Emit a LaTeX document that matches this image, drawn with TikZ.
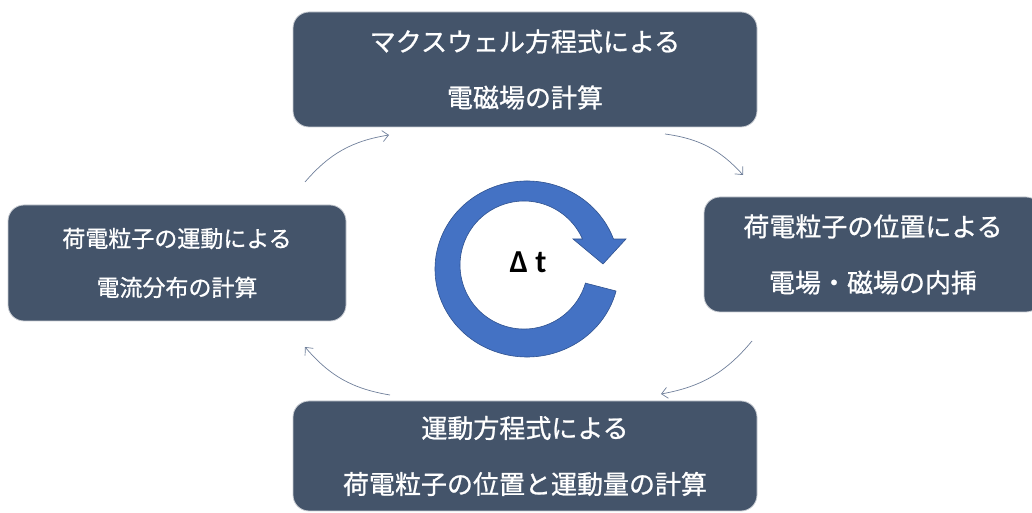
\documentclass[tikz,border=0pt]{standalone}
\usepackage{fontspec}
\setmainfont{Noto Sans CJK JP}
\newfontfamily\boxfont{Noto Sans CJK JP}[BoldFont={Noto Sans CJK JP}, BoldFeatures={FakeBold=0.9}]
\newfontfamily\dtfont{Carlito}
\usetikzlibrary{arrows.meta,calc}
\definecolor{boxfill}{HTML}{44546A}
\definecolor{boxline}{HTML}{C9CDD3}
\definecolor{ringfill}{HTML}{4472C4}
\definecolor{ringline}{HTML}{2F528F}
\definecolor{arrowline}{HTML}{6F7F9A}
\tikzset{
  stepbox/.style={rectangle, rounded corners=16pt, fill=boxfill, draw=boxline,
    line width=0.8pt, text=white, align=center, inner sep=0pt},
  bigtext/.style={font=\boxfont\bfseries\fontsize{26}{56}\selectfont},
  smalltext/.style={font=\boxfont\bfseries\fontsize{23}{49}\selectfont},
  flow/.style={draw=arrowline, line width=0.7pt,
    -{Straight Barb[length=6pt,width=11pt,line width=0.7pt]}}
}
\begin{document}
\begin{tikzpicture}[x=1pt,y=1pt]
\useasboundingbox (0,0) rectangle (1032,513);
% boxes
\node[stepbox, bigtext, minimum width=464pt, minimum height=115pt] (maxwell) at (525,443.5)
  {マクスウェル方程式による\\電磁場の計算};
\node[stepbox, bigtext, minimum width=338pt, minimum height=115pt] (interp) at (873,258.5)
  {荷電粒子の位置による\\電場・磁場の内挿};
\node[stepbox, bigtext, minimum width=464pt, minimum height=110pt] (motion) at (525,57)
  {運動方程式による\\荷電粒子の位置と運動量の計算};
\node[stepbox, smalltext, minimum width=338pt, minimum height=116pt] (current) at (177,250)
  {荷電粒子の運動による\\電流分布の計算};
% circular arrow
\coordinate (oc) at (527,244);
\coordinate (ic) at (524,248);
\filldraw[fill=ringfill, draw=ringline, line width=0.6pt]
  ($(oc)+(-14.5:92pt and 88pt)$) coordinate (lowout)
  arc[start angle=-14.5, end angle=-340.1, x radius=92pt, y radius=88pt]
  -- (626,274) -- (603,249) -- (573,274) -- (582.5,274)
  arc[start angle=24, end angle=343.6, radius=64pt] -- cycle;
\node[font=\dtfont\bfseries\fontsize{32}{34}\selectfont] (dt) at (528,251) {Δ t};
% connectors
\coordinate (a1s) at (305,331); \coordinate (a1e) at (389,378);
\coordinate (a2s) at (665,379); \coordinate (a2e) at (743,338);
\coordinate (a3s) at (752,172); \coordinate (a3e) at (661,119);
\coordinate (a4s) at (390,118); \coordinate (a4e) at (305,166);
\draw[flow] (a1s) to[bend left=20] (a1e);
\draw[flow] (a2s) to[bend left=20] (a2e);
\draw[flow] (a3s) to[bend left=20] (a3e);
\draw[flow] (a4s) to[bend left=20] (a4e);
\end{tikzpicture}
\end{document}
